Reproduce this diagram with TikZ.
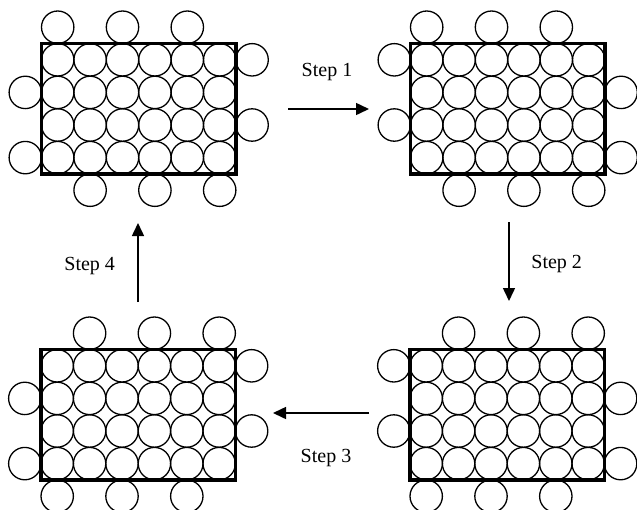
\documentclass[tikz,border=0pt]{standalone}
\usepackage{fontspec}
\setmainfont{Liberation Serif}
\usetikzlibrary{arrows.meta}
\tikzset{
  ball/.style={draw, line width=1.3pt},
  frame/.style={draw, line width=3.2pt, line join=miter},
  steparrow/.style={line width=1.5pt, -{Triangle[length=13pt,width=12pt]}},
  steplabel/.style={font=\fontsize{20}{24}\selectfont, anchor=base, inner sep=0pt},
}
% #1 L, #2 T, #3 top cols, #4 bottom cols, #5 left rows, #6 right rows, #7 name
\newcommand\cellpanel[7]{%
  \begin{scope}[shift={(#1,#2)}]
    \foreach \i in {0,...,5}{\foreach \j in {0,...,3}{%
      \draw[ball] ({16.2+32.4*\i},{16.3+32.6*\j}) circle[radius=16.2pt];}}
    \foreach \i in {#3}{\draw[ball] ({16.2+32.4*\i},-16.3) circle[radius=16.2pt];}
    \foreach \i in {#4}{\draw[ball] ({16.2+32.4*\i},146.7) circle[radius=16.2pt];}
    \foreach \j in {#5}{\draw[ball] (-16.2,{16.3+32.6*\j}) circle[radius=16.2pt];}
    \foreach \j in {#6}{\draw[ball] (210.6,{16.3+32.6*\j}) circle[radius=16.2pt];}
    \draw[frame] (0,0) rectangle (194.4,130.4);
    \coordinate (#7) at (97.2,65.2);
  \end{scope}}
\begin{document}
\begin{tikzpicture}[x=1pt,y=-1pt]
  \useasboundingbox (0,0) rectangle (637,509);
  \cellpanel{41.5}{43.5}{0,2,4}{1,3,5}{1,3}{0,2}{p1}
  \cellpanel{410.5}{43.5}{0,2,4}{1,3,5}{0,2}{1,3}{p2}
  \cellpanel{41}{349.5}{1,3,5}{0,2,4}{1,3}{0,2}{p3}
  \cellpanel{410}{349.5}{1,3,5}{0,2,4}{0,2}{1,3}{p4}
  \coordinate (a1s) at (288,109);
  \coordinate (a1e) at (369,109);
  \coordinate (a2s) at (509,222);
  \coordinate (a2e) at (509,301);
  \coordinate (a3s) at (369,413);
  \coordinate (a3e) at (273,413);
  \coordinate (a4s) at (138,302);
  \coordinate (a4e) at (138,223);
  \draw[steparrow] (a1s) -- (a1e);
  \draw[steparrow] (a2s) -- (a2e);
  \draw[steparrow] (a3s) -- (a3e);
  \draw[steparrow] (a4s) -- (a4e);
  \node[steplabel] (s1) at (327,76.7) {Step 1};
  \node[steplabel] (s2) at (556.7,268.3) {Step 2};
  \node[steplabel] (s3) at (326,462.3) {Step 3};
  \node[steplabel] (s4) at (89.7,270) {Step 4};
\end{tikzpicture}
\end{document}
